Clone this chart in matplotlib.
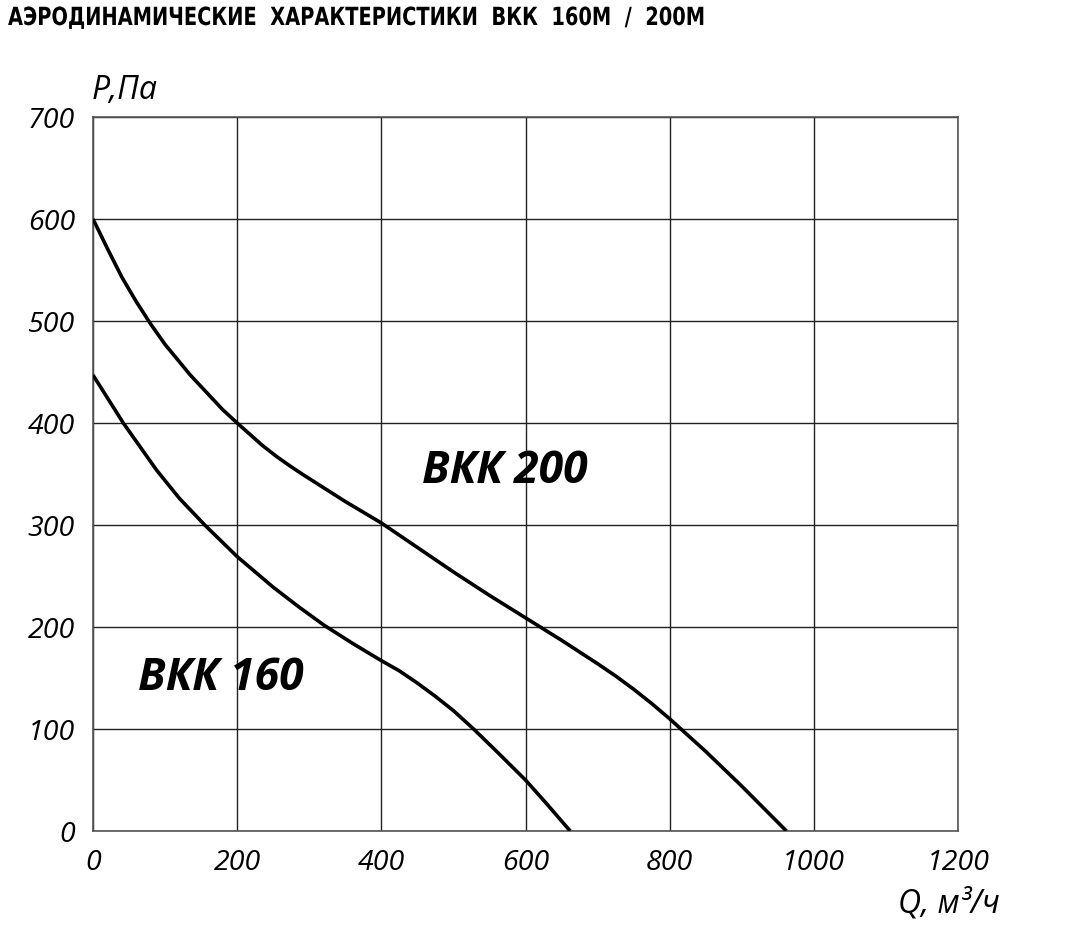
import matplotlib.pyplot as plt
from matplotlib.patheffects import AbstractPathEffect
from matplotlib.transforms import Affine2D

# ВКК 200 curve
q_200 = [0, 20, 40, 60, 80, 100, 135, 180, 200, 235, 255, 273, 290, 310, 350, 400, 450, 500, 550,
         600, 650, 700, 725, 750, 775, 800, 850, 900, 962]
p_200 = [600, 571, 543, 519, 497, 477, 447, 413, 400, 378, 367, 358, 350, 341, 323, 302, 278, 254, 231,
         209, 187, 164, 152, 139, 125, 110, 78, 44, 0]

# ВКК 160 curve
q_160 = [0, 42, 88, 120, 155, 200, 250, 285, 320, 360, 400, 425, 450, 475, 500, 528, 560, 600, 629, 662]
p_160 = [447, 400, 354, 326, 300, 269, 239, 220, 202, 184, 167, 157, 145, 132, 118, 100, 78, 50, 27, 0]

x_ticks = [0, 200, 400, 600, 800, 1000, 1200]
y_ticks = [0, 100, 200, 300, 400, 500, 600, 700]

title = 'АЭРОДИНАМИЧЕСКИЕ  ХАРАКТЕРИСТИКИ  ВКК  160М  /  200М'


class Squeeze(AbstractPathEffect):
    """narrow the glyphs horizontally around x0 (display px)"""
    def __init__(self, sx, x0):
        super().__init__()
        self.sx = sx
        self.x0 = x0

    def draw_path(self, renderer, gc, tpath, affine, rgbFace=None):
        t = affine + Affine2D().translate(-self.x0, 0).scale(self.sx, 1).translate(self.x0, 0)
        renderer.draw_path(gc, tpath, t, rgbFace)


W, H = 1065, 935
fig = plt.figure(figsize=(W / 100, H / 100), dpi=100)
ax = fig.add_axes([93 / W, 1 - 831 / H, (958 - 93) / W, (831 - 117) / H])

ax.plot(q_200, p_200, color='black', lw=2.6, solid_capstyle='butt', zorder=3)
ax.plot(q_160, p_160, color='black', lw=2.6, solid_capstyle='butt', zorder=3)

ax.set_xlim(0, 1200)
ax.set_ylim(0, 700)
ax.set_xticks(x_ticks)
ax.set_yticks(y_ticks)
ax.grid(True, color='#222222', lw=1.0)
for s in ax.spines.values():
    s.set_color('#555555')
    s.set_linewidth(1.2)
ax.tick_params(length=0, pad=13)

tick_font = dict(family='Open Sans', style='italic', size=20.5)
ax.set_xticklabels([str(v) for v in x_ticks], **tick_font)
ax.set_yticklabels([str(v) for v in y_ticks], **tick_font)

fig.text(92 / W, 1 - 99 / H, 'P,Па', family='Open Sans', style='italic', size=23, ha='left', va='baseline')
fig.text(1000 / W, 1 - 912 / H, 'Q, м³/ч', family='Open Sans', style='italic', size=23, ha='right', va='baseline')

lab_font = dict(family='Open Sans', weight='bold', style='italic', size=32)
ax.text(571, 352, 'ВКК 200', ha='center', va='center', **lab_font)
ax.text(178, 150, 'ВКК 160', ha='center', va='center', **lab_font)

# title: heavy face, squeezed to the reference width
t = fig.text(8 / W, 1 - 25 / H, title, family='DejaVu Sans', weight='bold',
             size=18, ha='left', va='baseline')
fig.canvas.draw()
tw = t.get_window_extent().width
t.set_path_effects([Squeeze(697 / tw, 8)])

fig.savefig('out.png', dpi=100)
